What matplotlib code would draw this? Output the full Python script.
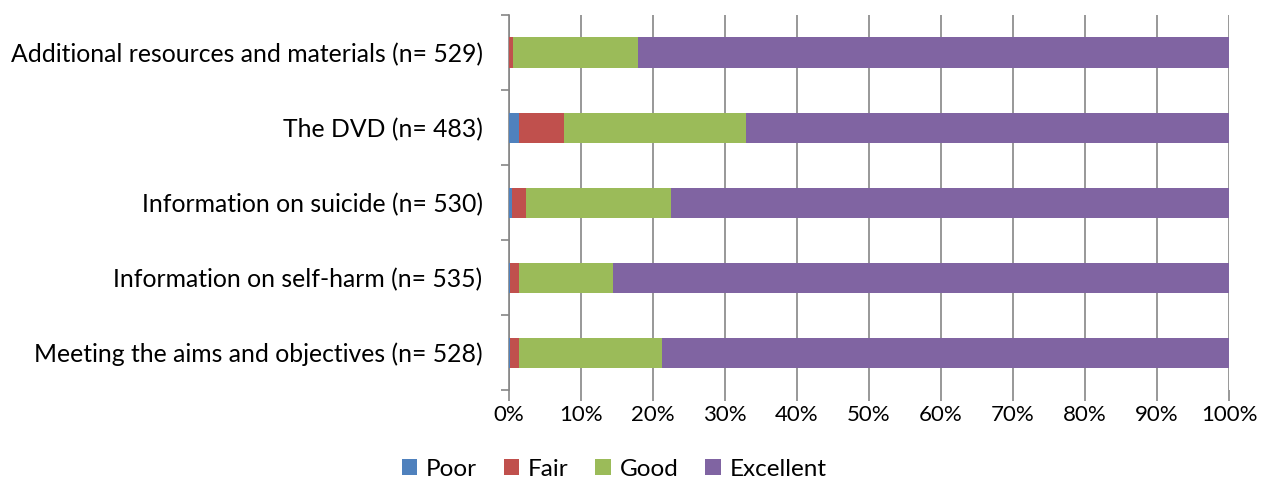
import matplotlib.pyplot as plt
import numpy as np

plt.rcParams['font.family'] = ['Lato', 'DejaVu Sans']

categories = [
    'Meeting the aims and objectives (n= 528)',
    'Information on self-harm (n= 535)',
    'Information on suicide (n= 530)',
    'The DVD (n= 483)',
    'Additional resources and materials (n= 529)',
]
ratings = ['Poor', 'Fair', 'Good', 'Excellent']
colors = ['#4F81BD', '#C0504D', '#9BBB59', '#8064A2']

# percentages per category, bottom row first
poor = [0.2, 0.2, 0.4, 1.4, 0.0]
fair = [1.2, 1.2, 2.0, 6.2, 0.6]
good = [19.8, 13.1, 20.1, 25.3, 17.3]
excellent = [78.8, 85.5, 77.5, 67.1, 82.1]
values = [poor, fair, good, excellent]

fig = plt.figure(figsize=(12.61, 4.8), dpi=100)
ax = fig.add_axes([509 / 1261, 1 - 390 / 480, 720 / 1261, 375 / 480])

y = np.arange(len(categories))
left = np.zeros(len(categories))
for name, vals, col in zip(ratings, values, colors):
    ax.barh(y, vals, left=left, height=0.4, color=col, label=name, zorder=3)
    left += np.array(vals)

ax.set_xlim(0, 100)
ax.set_ylim(-0.5, len(categories) - 0.5)
ax.set_xticks(np.arange(0, 101, 10))
ax.set_xticklabels([f'{v}%' for v in range(0, 101, 10)])
ax.set_yticks(y)
ax.set_yticklabels(categories)
ax.set_yticks(np.arange(-0.5, len(categories), 1), minor=True)

ax.grid(axis='x', color='#868686', linewidth=1.2, zorder=0)
for side in ['top', 'right', 'bottom']:
    ax.spines[side].set_visible(False)
ax.spines['left'].set_color('#868686')
ax.spines['left'].set_linewidth(1.2)

ax.tick_params(axis='y', which='major', length=0, pad=19, labelsize=17.8)
ax.tick_params(axis='y', which='minor', length=6, color='#868686', width=1.2)
ax.tick_params(axis='x', length=8, color='#868686', width=1.2, labelsize=16, pad=3)

fig.legend(loc='center', bbox_to_anchor=(614 / 1261, 1 - 469 / 480), ncol=4,
           frameon=False, fontsize=17.5, handlelength=0.65, handleheight=0.65,
           handletextpad=0.35, columnspacing=1.1, borderaxespad=0)

fig.savefig('out.png', dpi=100)
